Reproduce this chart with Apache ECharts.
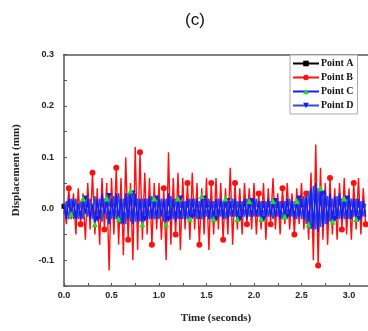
<!DOCTYPE html>
<html>
<head>
<meta charset="utf-8">
<script src="https://cdn.jsdelivr.net/npm/echarts@6/dist/echarts.min.js"></script>
<style>html,body{margin:0;padding:0;background:#fff}#c{width:368px;height:331px}</style>
</head>
<body>
<div id="c"></div>
<script>
const dt = 0.025;
const seriesNames = ['Point A', 'Point B', 'Point C', 'Point D'];
const xTickLabels = ['0.0', '0.5', '1.0', '1.5', '2.0', '2.5', '3.0'];
const yTickLabels = ['-0.1', '0.0', '0.1', '0.2', '0.3'];

const pointA = [
 0.005,-0.008,0.01,-0.006,0.008,-0.01,0.006,-0.008,0.01,-0.007,
 0.008,-0.01,0.007,-0.012,0.01,-0.008,0.012,-0.007,0.009,-0.012,
 0.01,-0.009,0.012,-0.01,0.009,-0.013,0.012,-0.01,0.014,-0.012,
 0.012,-0.01,0.009,-0.012,0.009,-0.008,0.01,-0.008,0.009,-0.008,
 0.009,-0.007,0.008,-0.012,0.012,-0.009,0.008,-0.01,0.009,-0.008,
 0.007,-0.008,0.008,-0.009,0.008,-0.007,0.009,-0.008,0.01,-0.008,
 0.008,-0.009,0.007,-0.008,0.008,-0.007,0.009,-0.008,0.008,-0.008,
 0.007,-0.007,0.008,-0.008,0.007,-0.006,0.008,-0.008,0.006,-0.007,
 0.008,-0.006,0.007,-0.008,0.006,-0.007,0.008,-0.006,0.007,-0.006,
 0.007,-0.008,0.006,-0.007,0.008,-0.006,0.007,-0.008,0.006,-0.007,
 0.008,-0.009,0.01,-0.012,0.016,-0.016,0.02,-0.018,0.016,-0.014,
 0.014,-0.012,0.012,-0.01,0.01,-0.008,0.012,-0.009,0.008,-0.008,
 0.01,-0.008,0.008,-0.009,0.008,-0.008,0.006,-0.006
];
const pointB = [
 0.01,-0.03,0.04,-0.02,0.03,-0.05,0.04,-0.03,0.03,-0.06,
 0.05,-0.04,0.07,-0.05,0.04,-0.07,0.06,-0.04,0.05,-0.12,
 0.06,-0.05,0.08,-0.07,0.06,-0.09,0.10,-0.06,0.05,-0.10,
 0.12,-0.08,0.11,-0.06,0.07,-0.05,0.06,-0.07,0.05,-0.04,
 0.05,-0.06,0.04,-0.10,0.11,-0.07,0.06,-0.05,0.07,-0.08,
 0.06,-0.04,0.05,-0.06,0.07,-0.04,0.05,-0.07,0.04,-0.05,
 0.06,-0.08,0.05,-0.05,0.06,-0.04,0.05,-0.06,0.04,-0.05,
 0.08,-0.07,0.05,-0.04,0.04,-0.05,0.05,-0.03,0.04,-0.04,
 0.05,-0.05,0.03,-0.04,0.05,-0.06,0.04,-0.03,0.06,-0.04,
 0.03,-0.05,0.04,-0.03,0.05,-0.04,0.03,-0.05,0.04,-0.03,
 0.05,-0.04,0.03,-0.06,0.07,-0.10,0.125,-0.11,0.08,-0.06,
 0.05,-0.07,0.06,-0.05,0.04,-0.06,0.05,-0.04,0.06,-0.05,
 0.04,-0.06,0.05,-0.04,0.06,-0.05,0.04,-0.03
];
const pointC = [
 0.01,-0.02,0.02,-0.01,0.02,-0.02,0.01,-0.02,0.02,-0.01,
 0.02,-0.02,0.01,-0.03,0.02,-0.02,0.03,-0.01,0.02,-0.03,
 0.02,-0.02,0.03,-0.02,0.02,-0.03,0.03,-0.02,0.035,-0.03,
 0.03,-0.025,0.02,-0.03,0.02,-0.02,0.025,-0.02,0.02,-0.02,
 0.02,-0.015,0.02,-0.03,0.03,-0.02,0.02,-0.025,0.02,-0.02,
 0.015,-0.02,0.02,-0.02,0.02,-0.015,0.02,-0.02,0.025,-0.02,
 0.02,-0.02,0.015,-0.02,0.02,-0.015,0.02,-0.02,0.02,-0.02,
 0.015,-0.015,0.02,-0.02,0.015,-0.015,0.02,-0.02,0.015,-0.015,
 0.02,-0.015,0.015,-0.02,0.015,-0.015,0.02,-0.015,0.015,-0.015,
 0.015,-0.02,0.015,-0.015,0.02,-0.015,0.015,-0.02,0.015,-0.015,
 0.02,-0.02,0.025,-0.03,0.04,-0.04,0.05,-0.045,0.04,-0.035,
 0.035,-0.03,0.03,-0.025,0.025,-0.02,0.03,-0.02,0.02,-0.02,
 0.025,-0.02,0.02,-0.02,0.02,-0.02,0.015,-0.015
];
const pointD = [
 -0.01,0.015,-0.02,0.02,-0.015,0.02,-0.02,0.015,-0.02,0.02,
 -0.015,0.02,-0.02,0.025,-0.02,0.02,-0.025,0.02,-0.02,0.025,
 -0.02,0.025,-0.02,0.03,-0.025,0.02,-0.03,0.03,-0.025,0.03,
 -0.025,0.02,-0.025,0.02,-0.02,0.02,-0.02,0.025,-0.02,0.02,
 -0.02,0.02,-0.025,0.02,-0.02,0.025,-0.02,0.02,-0.02,0.02,
 -0.02,0.015,-0.02,0.02,-0.015,0.02,-0.02,0.015,-0.02,0.02,
 -0.015,0.02,-0.02,0.015,-0.02,0.02,-0.015,0.015,-0.02,0.015,
 -0.015,0.02,-0.015,0.015,-0.02,0.015,-0.015,0.02,-0.015,0.015,
 -0.015,0.02,-0.015,0.015,-0.02,0.015,-0.015,0.015,-0.02,0.015,
 -0.015,0.015,-0.02,0.015,-0.015,0.02,-0.015,0.015,-0.02,0.02,
 -0.02,0.025,-0.03,0.035,-0.035,0.045,-0.04,0.04,-0.035,0.03,
 -0.03,0.025,-0.025,0.02,-0.02,0.025,-0.02,0.02,-0.02,0.02,
 -0.02,0.02,-0.015,0.02,-0.02,0.015,-0.015,0.01
];

function pairs(arr) { return arr.map((v, i) => [+(i * dt).toFixed(4), v]); }
function sparseSize(size, offset) {
  return function (value, params) { return (params.dataIndex % 5 === offset) ? size : 0; };
}

const chart = echarts.init(document.getElementById('c'), null, {renderer: 'canvas'});
const axisColor = '#555';
const labelFont = {fontFamily: 'Liberation Sans, Arial, sans-serif', fontWeight: 'bold', fontSize: 9, color: '#222'};
const nameFont = {fontFamily: 'Liberation Serif, Times New Roman, serif', fontWeight: 'bold', fontSize: 11, color: '#222'};

chart.setOption({
  animation: false,
  backgroundColor: '#fff',
  title: {
    text: '(c)', left: 190, top: 7, textAlign: 'center',
    textStyle: {fontFamily: 'Liberation Sans, Arial, sans-serif', fontWeight: 'normal', fontSize: 17, color: '#111'}
  },
  grid: {left: 64, right: -3, top: 54.5, bottom: 45, show: false},
  legend: {
    orient: 'vertical', left: 290, top: 55,
    data: seriesNames,
    itemWidth: 26, itemHeight: 7, itemGap: 3,
    padding: [3, 4, 3, 2],
    borderColor: '#aaa', borderWidth: 1, backgroundColor: '#fff',
    textStyle: {fontFamily: 'Liberation Serif, Times New Roman, serif', fontWeight: 'bold', fontSize: 10, color: '#111', lineHeight: 11, padding: [0, 0, 0, -3]}
  },
  xAxis: [{
    type: 'value', min: 0, max: 3.2, interval: 0.25,
    name: 'Time (seconds)', nameLocation: 'middle', nameGap: 27, nameTextStyle: nameFont,
    axisLine: {show: true, onZero: false, lineStyle: {color: axisColor, width: 1.5}},
    axisTick: {show: true, inside: true, length: 3, lineStyle: {color: axisColor, width: 1}},
    splitLine: {show: false},
    axisLabel: Object.assign({margin: 5, showMaxLabel: false, formatter: function (v) {
      const k = Math.round(v * 2);
      return Math.abs(v * 2 - k) < 1e-6 && k / 2 <= 3.0 ? xTickLabels[k] : '';
    }}, labelFont)
  }, {
    type: 'value', position: 'top', min: 0, max: 3.2, interval: 0.25,
    axisLine: {show: true, onZero: false, lineStyle: {color: axisColor, width: 1.5}},
    axisTick: {show: false}, axisLabel: {show: false}, splitLine: {show: false}
  }],
  yAxis: {
    type: 'value', min: -0.15, max: 0.3, interval: 0.05,
    name: 'Displacement (mm)', nameLocation: 'middle', nameGap: 42, nameTextStyle: nameFont,
    axisLine: {show: true, onZero: false, lineStyle: {color: axisColor, width: 1.5}},
    axisTick: {show: true, inside: true, length: 3, lineStyle: {color: axisColor, width: 1}},
    splitLine: {show: false},
    axisLabel: Object.assign({margin: 10, formatter: function (v) {
      const k = Math.round(v * 10);
      return Math.abs(v * 10 - k) < 1e-6 ? yTickLabels[k + 1] : '';
    }}, labelFont)
  },
  series: [
    {name: 'Point A', type: 'line', data: pairs(pointA), symbol: 'rect', symbolSize: sparseSize(5, 0), showAllSymbol: true,
     lineStyle: {color: '#000', width: 1}, itemStyle: {color: '#000'}, z: 2},
    {name: 'Point B', type: 'line', data: pairs(pointB), symbol: 'circle', symbolSize: sparseSize(6, 2), showAllSymbol: true,
     lineStyle: {color: '#ff1010', width: 1.4}, itemStyle: {color: '#ff1010'}, z: 3},
    {name: 'Point D', type: 'line', data: pairs(pointD), symbol: 'triangle', symbolRotate: 180, symbolSize: sparseSize(6, 4), showAllSymbol: true,
     lineStyle: {color: '#2a4fd0', width: 1.5}, itemStyle: {color: '#1020e0'}, z: 4},
    {name: 'Point C', type: 'line', data: pairs(pointC), symbol: 'triangle', symbolSize: sparseSize(6, 3), showAllSymbol: true,
     lineStyle: {color: '#1a1aff', width: 1.5}, itemStyle: {color: '#22dd22'}, z: 5}
  ]
});
</script>
</body>
</html>
